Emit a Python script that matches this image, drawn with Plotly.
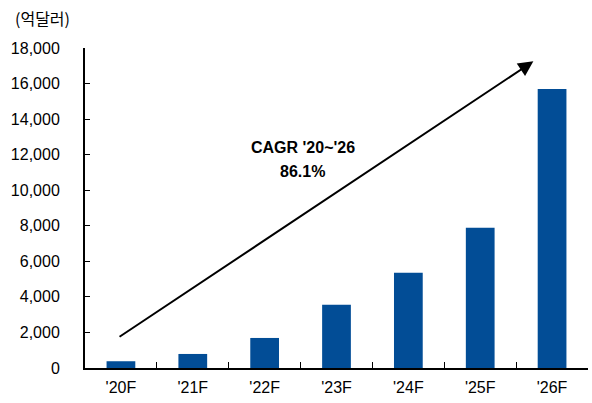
import plotly.graph_objects as go

# Market size forecast (unit: 100M USD)
years = ["'20F", "'21F", "'22F", "'23F", "'24F", "'25F", "'26F"]
values = [380, 790, 1690, 3560, 5360, 7890, 15690]
y_ticks = [0, 2000, 4000, 6000, 8000, 10000, 12000, 14000, 16000, 18000]

BAR_COLOR = "#024D96"
FONT = "Liberation Sans, Arial, sans-serif"

fig = go.Figure()
fig.add_trace(go.Bar(
    x=years, y=values,
    marker=dict(color=BAR_COLOR, line=dict(width=0)),
    width=0.4,
))

# growth arrow from '20F to '26F
fig.add_annotation(
    x=5.74, y=17250, ax=-0.04, ay=1700,
    xref="x", yref="y", axref="x", ayref="y",
    showarrow=True, arrowhead=2, arrowsize=1.5, arrowwidth=2,
    arrowcolor="black", text="",
)
fig.add_annotation(
    x=2.53, y=12380, xref="x", yref="y", showarrow=False,
    text="<b>CAGR '20~'26</b>", font=dict(family=FONT, size=16, color="black"),
)
fig.add_annotation(
    x=2.53, y=11030, xref="x", yref="y", showarrow=False,
    text="<b>86.1%</b>", font=dict(family=FONT, size=16, color="black"),
)
# unit label
fig.add_annotation(
    x=-0.143, y=1.094, xref="paper", yref="paper", xanchor="left", yanchor="middle",
    showarrow=False, text="(억달러)",
    font=dict(family="Noto Sans CJK KR, sans-serif", size=16, color="black"),
)

fig.update_layout(
    width=592, height=403,
    margin=dict(l=85, r=4, t=48, b=35),
    paper_bgcolor="white", plot_bgcolor="white",
    showlegend=False,
    font=dict(family=FONT, size=16, color="black"),
    bargap=0.6,
)
fig.update_xaxes(
    type="category", tickson="boundaries",
    showline=True, linecolor="black", linewidth=2,
    ticks="inside", ticklen=6, tickcolor="black", tickwidth=1,
    showgrid=False, zeroline=False,
    ticklabelstandoff=4,
    tickfont=dict(family=FONT, size=16, color="black"),
)
fig.update_yaxes(
    range=[0, 18000], tickvals=y_ticks, tickformat=",",
    showline=True, linecolor="black", linewidth=2,
    ticks="inside", ticklen=5, tickcolor="black", tickwidth=1,
    showgrid=False, zeroline=False,
    ticklabelstandoff=20,
    tickfont=dict(family=FONT, size=16, color="black"),
)

fig.write_html("out.html")
